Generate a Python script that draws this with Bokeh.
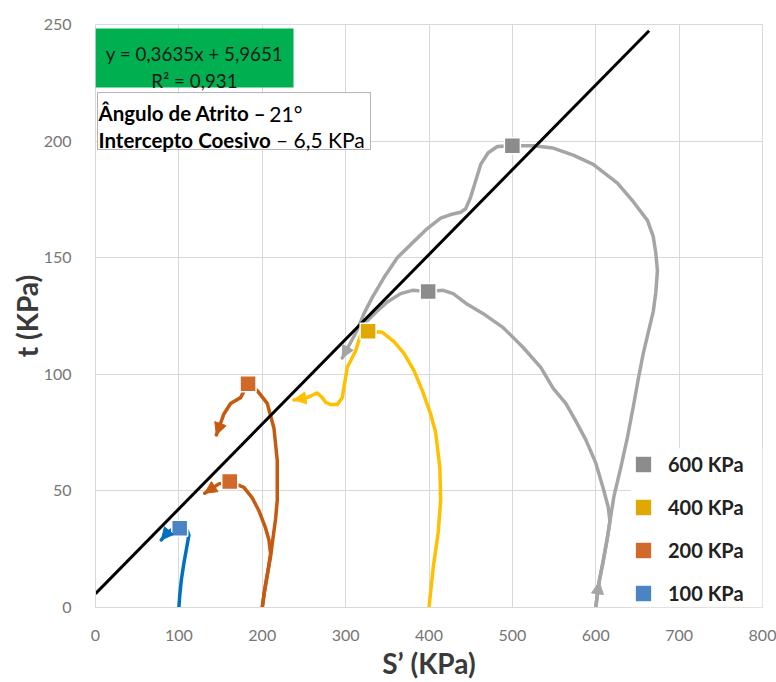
from bokeh.plotting import figure
from bokeh.models import Range1d, BoxAnnotation, Label, Arrow, NormalHead, Legend, LegendItem
from bokeh.embed import file_html
from bokeh.resources import INLINE

# ---------------- data ----------------
x_ticks = [0, 100, 200, 300, 400, 500, 600, 700, 800]
y_ticks = [0, 50, 100, 150, 200, 250]

# 100 KPa
s100 = [100, 101, 103, 106, 109, 111, 112, 110, 101, 92, 86, 79]
t100 = [0, 5, 12, 19, 25, 29, 31, 33, 34, 33.5, 32, 29]
pk100_s = [101]
pk100_t = [34]

# 200 KPa (two paths)
s200a = [200, 202, 206, 210, 213, 216, 218, 218, 218, 214, 206, 194, 183, 174, 162, 154, 150, 145]
t200a = [0, 5, 14, 22, 30, 38, 46, 55, 63, 77, 87.5, 93, 96, 90, 87.5, 83, 79, 74]
s200b = [200, 203, 207, 210, 208, 204, 196, 188, 178, 161, 148, 131]
t200b = [0, 8, 16, 23, 29, 34, 41.5, 47, 51.5, 54, 53, 49]
pk200_s = [183, 161]
pk200_t = [96, 54]

# 400 KPa
s400 = [400, 405, 411, 414, 413, 408, 402, 392, 382, 370, 358, 344, 327, 318,
        312, 302, 296, 290, 282, 276, 272, 266, 260, 254, 238]
t400 = [0, 17, 32, 46, 60, 75, 83, 93, 101.6, 109, 114, 118, 118.5, 117,
        110, 103, 90, 87, 87, 88, 90, 92, 91, 90, 89]
pk400_s = [327]
pk400_t = [118.5]

# 600 KPa (two paths)
s600a = [600, 604, 609, 614, 617, 622, 630, 638, 645, 651, 657, 663, 669, 672, 674,
         672, 669, 662, 645, 626, 597, 573, 549, 525, 500, 482, 471, 462, 456, 450,
         444, 438, 426, 414, 398, 382, 362, 346, 332, 322, 314, 296]
t600a = [0, 11, 20, 30, 37, 48, 60, 73, 86, 98, 109, 118, 127, 135, 144.5,
         152, 159, 166, 174, 182, 190, 194, 197, 198, 198, 197.7, 195, 190, 183, 176,
         171, 169.5, 168.5, 167, 162.5, 157, 150, 141.5, 133, 126, 119, 107]
s600b = [600, 604, 609, 614, 617, 615, 609, 600, 588, 576, 564, 549, 534, 513, 489,
         465, 446, 429, 417, 399, 380, 366, 350, 336, 326, 318]
t600b = [0, 11, 20, 30, 37, 43, 51, 62, 72, 80, 87.5, 94, 103, 111.5, 120,
         126, 130, 134.6, 136, 135.5, 136, 134.6, 131, 126.5, 123, 120]
pk600_s = [500, 399]
pk600_t = [198, 135.5]

# regression line y = 0.3635x + 5.9651
fit_slope = 0.3635
fit_intercept = 5.9651
fit_x = [0, 664]
fit_y = [fit_slope * v + fit_intercept for v in fit_x]

series_labels = ["600 KPa", "400 KPa", "200 KPa", "100 KPa"]

# ---------------- styles ----------------
C600, M600 = "#A5A5A5", "#8C8C8C"
C400, M400 = "#FFC000", "#E0A800"
C200, M200 = "#C55A11", "#D0692A"
C100, M100 = "#0070C0", "#4A84C4"
LW = 3.5
FONT = "Lato"

p = figure(width=776, height=682, x_range=Range1d(0, 800), y_range=Range1d(0, 250),
           output_backend="svg", toolbar_location=None,
           min_border_left=95, min_border_right=14, min_border_top=24, min_border_bottom=75)
p.background_fill_color = "white"
p.border_fill_color = "white"
p.outline_line_color = "#D9D9D9"

p.xaxis.ticker = x_ticks
p.yaxis.ticker = y_ticks
for ax in (p.xaxis, p.yaxis):
    ax.axis_line_color = "#D9D9D9"
    ax.major_tick_line_color = None
    ax.minor_tick_line_color = None
    ax.major_label_text_font = FONT
    ax.major_label_text_font_size = "16px"
    ax.major_label_text_color = "#767676"
    ax.axis_label_text_font = FONT
    ax.axis_label_text_font_size = "28px"
    ax.axis_label_text_font_style = "bold"
    ax.axis_label_text_color = "#3A3A3A"
p.xaxis.axis_label = "S’ (KPa)"
p.yaxis.axis_label = "t (KPa)"
p.xaxis.major_label_standoff = 16
p.yaxis.major_label_standoff = 18
p.xaxis.axis_label_standoff = 2
p.yaxis.axis_label_standoff = -3
p.xgrid.grid_line_color = "#D9D9D9"
p.ygrid.grid_line_color = "#D9D9D9"

# legend background (covers gridlines)
p.add_layout(BoxAnnotation(left=642, right=800, bottom=0, top=68.5,
                           fill_color="white", fill_alpha=1, line_color=None))

# stress paths
paths = [
    (s600a, t600a, C600), (s600b, t600b, C600),
    (s400, t400, C400),
    (s200a, t200a, C200), (s200b, t200b, C200),
    (s100, t100, C100),
]
for sx, ty, col in paths:
    p.line(sx, ty, line_color=col, line_width=LW, line_join="round", line_cap="round")

# arrow heads at path ends
arrow_specs = [
    (s600a, t600a, C600, -2, -1),
    (s600a, t600a, C600, 0, 1),
    (s400, t400, C400, -2, -1),
    (s200a, t200a, C200, -2, -1),
    (s200b, t200b, C200, -2, -1),
    (s100, t100, C100, -2, -1),
]
for sx, ty, col, i0, i1 in arrow_specs:
    p.add_layout(Arrow(end=NormalHead(size=12, fill_color=col, line_color=col, line_width=1),
                       x_start=sx[i0], y_start=ty[i0], x_end=sx[i1], y_end=ty[i1],
                       line_color=col, line_width=LW, line_alpha=0))

# regression line
p.line(fit_x, fit_y, line_color="black", line_width=3)

# peak markers
r600 = p.scatter(pk600_s, pk600_t, marker="square", size=16, fill_color=M600, line_color="white", line_width=1.5)
r400 = p.scatter(pk400_s, pk400_t, marker="square", size=16, fill_color=M400, line_color="white", line_width=1.5)
r200 = p.scatter(pk200_s, pk200_t, marker="square", size=16, fill_color=M200, line_color="white", line_width=1.5)
r100 = p.scatter(pk100_s, pk100_t, marker="square", size=16, fill_color=M100, line_color="white", line_width=1.5)

legend = Legend(items=[LegendItem(label=series_labels[0], renderers=[r600]),
                       LegendItem(label=series_labels[1], renderers=[r400]),
                       LegendItem(label=series_labels[2], renderers=[r200]),
                       LegendItem(label=series_labels[3], renderers=[r100])],
                location=(527, -7), glyph_width=42, glyph_height=42, spacing=1, padding=0,
                margin=0, label_standoff=4,
                label_text_font=FONT, label_text_font_size="20px", label_text_font_style="bold",
                label_text_color="#222222",
                background_fill_alpha=0, border_line_color=None)
p.add_layout(legend)

# equation box
p.add_layout(BoxAnnotation(left=0, right=237.5, bottom=223.0, top=248.3,
                           fill_color="#00B050", fill_alpha=1, line_color=None))
p.add_layout(Label(x=118.7, y=237.4, text="y = 0,3635x + 5,9651", text_align="center",
                   text_baseline="alphabetic", text_font=FONT, text_font_size="18.8px",
                   text_color="#1A1A1A"))
p.add_layout(Label(x=118.7, y=226.0, text="R² = 0,931", text_align="center",
                   text_baseline="alphabetic", text_font=FONT, text_font_size="18.8px",
                   text_color="#1A1A1A"))

# parameters box
p.add_layout(BoxAnnotation(left=2.4, right=329.8, bottom=196.4, top=220.8,
                           fill_color="white", fill_alpha=1, line_color="black", line_width=1))
p.add_layout(Label(x=3.6, y=212.0, text="Ângulo de Atrito –", text_baseline="alphabetic",
                   text_font=FONT, text_font_size="20.5px", text_font_style="bold", text_color="black"))
p.add_layout(Label(x=208.5, y=212.0, text="21°", text_baseline="alphabetic",
                   text_font=FONT, text_font_size="21px", text_color="black"))
p.add_layout(Label(x=3.6, y=200.5, text="Intercepto Coesivo", text_baseline="alphabetic",
                   text_font=FONT, text_font_size="20.5px", text_font_style="bold", text_color="black"))
p.add_layout(Label(x=216.5, y=200.5, text="– 6,5 KPa", text_baseline="alphabetic",
                   text_font=FONT, text_font_size="21px", text_color="black"))

open("out.html", "w").write(file_html(p, INLINE))
